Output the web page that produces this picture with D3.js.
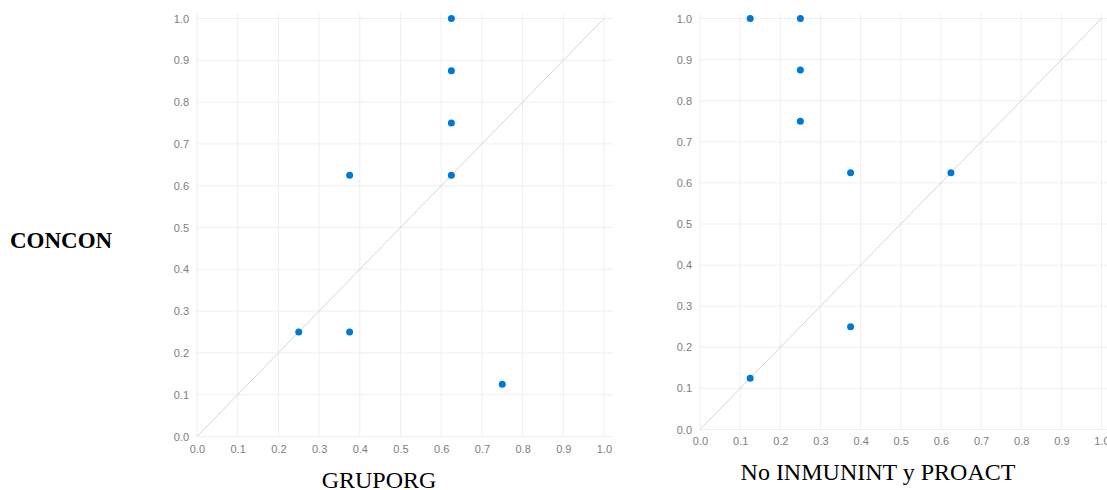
<!DOCTYPE html>
<html>
<head>
<meta charset="utf-8">
<script src="https://cdn.jsdelivr.net/npm/d3@7"></script>
<style>
  body { margin: 0; background: #fff; }
  svg { display: block; }
  .tick text { fill: #7d7d7d; font-family: "Liberation Sans", Arial, sans-serif; font-size: 11px; }
</style>
</head>
<body>
<svg id="chart" width="1107" height="490"></svg>
<script>
// y variable shared by both panels
const yLabel = "CONCON";
const tickValues = [0, 0.1, 0.2, 0.3, 0.4, 0.5, 0.6, 0.7, 0.8, 0.9, 1.0];

// left panel: GRUPORG vs CONCON
const gruporgLabel = "GRUPORG";
const gruporgX = [0.625, 0.625, 0.625, 0.375, 0.625, 0.25, 0.375, 0.75];
const gruporgY = [1.0, 0.875, 0.75, 0.625, 0.625, 0.25, 0.25, 0.125];

// right panel: No INMUNINT y PROACT vs CONCON
const inmunLabel = "No INMUNINT y PROACT";
const inmunX = [0.125, 0.25, 0.25, 0.25, 0.375, 0.625, 0.375, 0.125];
const inmunY = [1.0, 1.0, 0.875, 0.75, 0.625, 0.625, 0.25, 0.125];

const svg = d3.select("#chart");

svg.append("text")
  .attr("x", 10)
  .attr("y", 248)
  .attr("font-family", "'Liberation Serif', 'Times New Roman', serif")
  .attr("font-weight", "bold")
  .attr("font-size", 23)
  .attr("fill", "#000")
  .text(yLabel);

function drawPanel(opts) {
  const x = d3.scaleLinear().domain([0, 1]).range([opts.x0, opts.x1]);
  const y = d3.scaleLinear().domain([0, 1]).range([opts.y0, opts.y1]);
  const g = svg.append("g");

  // grid
  g.append("g").selectAll("line.v")
    .data(tickValues).join("line")
    .attr("x1", d => x(d)).attr("x2", d => x(d))
    .attr("y1", opts.y1 - 5).attr("y2", opts.y0)
    .attr("stroke", "#efefef").attr("stroke-width", 1);
  g.append("g").selectAll("line.h")
    .data(tickValues).join("line")
    .attr("x1", opts.x0).attr("x2", opts.x1 + 9)
    .attr("y1", d => y(d)).attr("y2", d => y(d))
    .attr("stroke", "#efefef").attr("stroke-width", 1);

  // diagonal reference
  g.append("line")
    .attr("x1", x(0)).attr("y1", y(0))
    .attr("x2", x(1)).attr("y2", y(1))
    .attr("stroke", "#d6d6d6").attr("stroke-width", 1);

  // axes (labels only)
  g.append("g")
    .attr("transform", "translate(0," + opts.y0 + ")")
    .call(d3.axisBottom(x).tickValues(tickValues).tickFormat(d3.format(".1f")).tickSize(0).tickPadding(opts.xPad));
  g.append("g")
    .attr("transform", "translate(" + opts.x0 + ",0)")
    .call(d3.axisLeft(y).tickValues(tickValues).tickFormat(d3.format(".1f")).tickSize(0).tickPadding(8));
  g.selectAll(".domain").remove();

  // points
  g.append("g").selectAll("circle")
    .data(opts.xs.map((v, i) => [v, opts.ys[i]])).join("circle")
    .attr("cx", d => x(d[0]))
    .attr("cy", d => y(d[1]))
    .attr("r", 3.5)
    .attr("fill", "#0078d4");

  // x title
  g.append("text")
    .attr("x", opts.titleX)
    .attr("y", opts.titleY)
    .attr("text-anchor", "middle")
    .attr("font-family", "'Liberation Serif', 'Times New Roman', serif")
    .attr("font-size", 24)
    .attr("fill", "#000")
    .text(opts.label);
}

drawPanel({
  x0: 197, x1: 604, y0: 436.5, y1: 18.5, xPad: 9,
  xs: gruporgX, ys: gruporgY, label: gruporgLabel, titleX: 379, titleY: 488
});

drawPanel({
  x0: 700, x1: 1101.5, y0: 429.5, y1: 18.5, xPad: 8,
  xs: inmunX, ys: inmunY, label: inmunLabel, titleX: 878, titleY: 480
});
</script>
</body>
</html>
